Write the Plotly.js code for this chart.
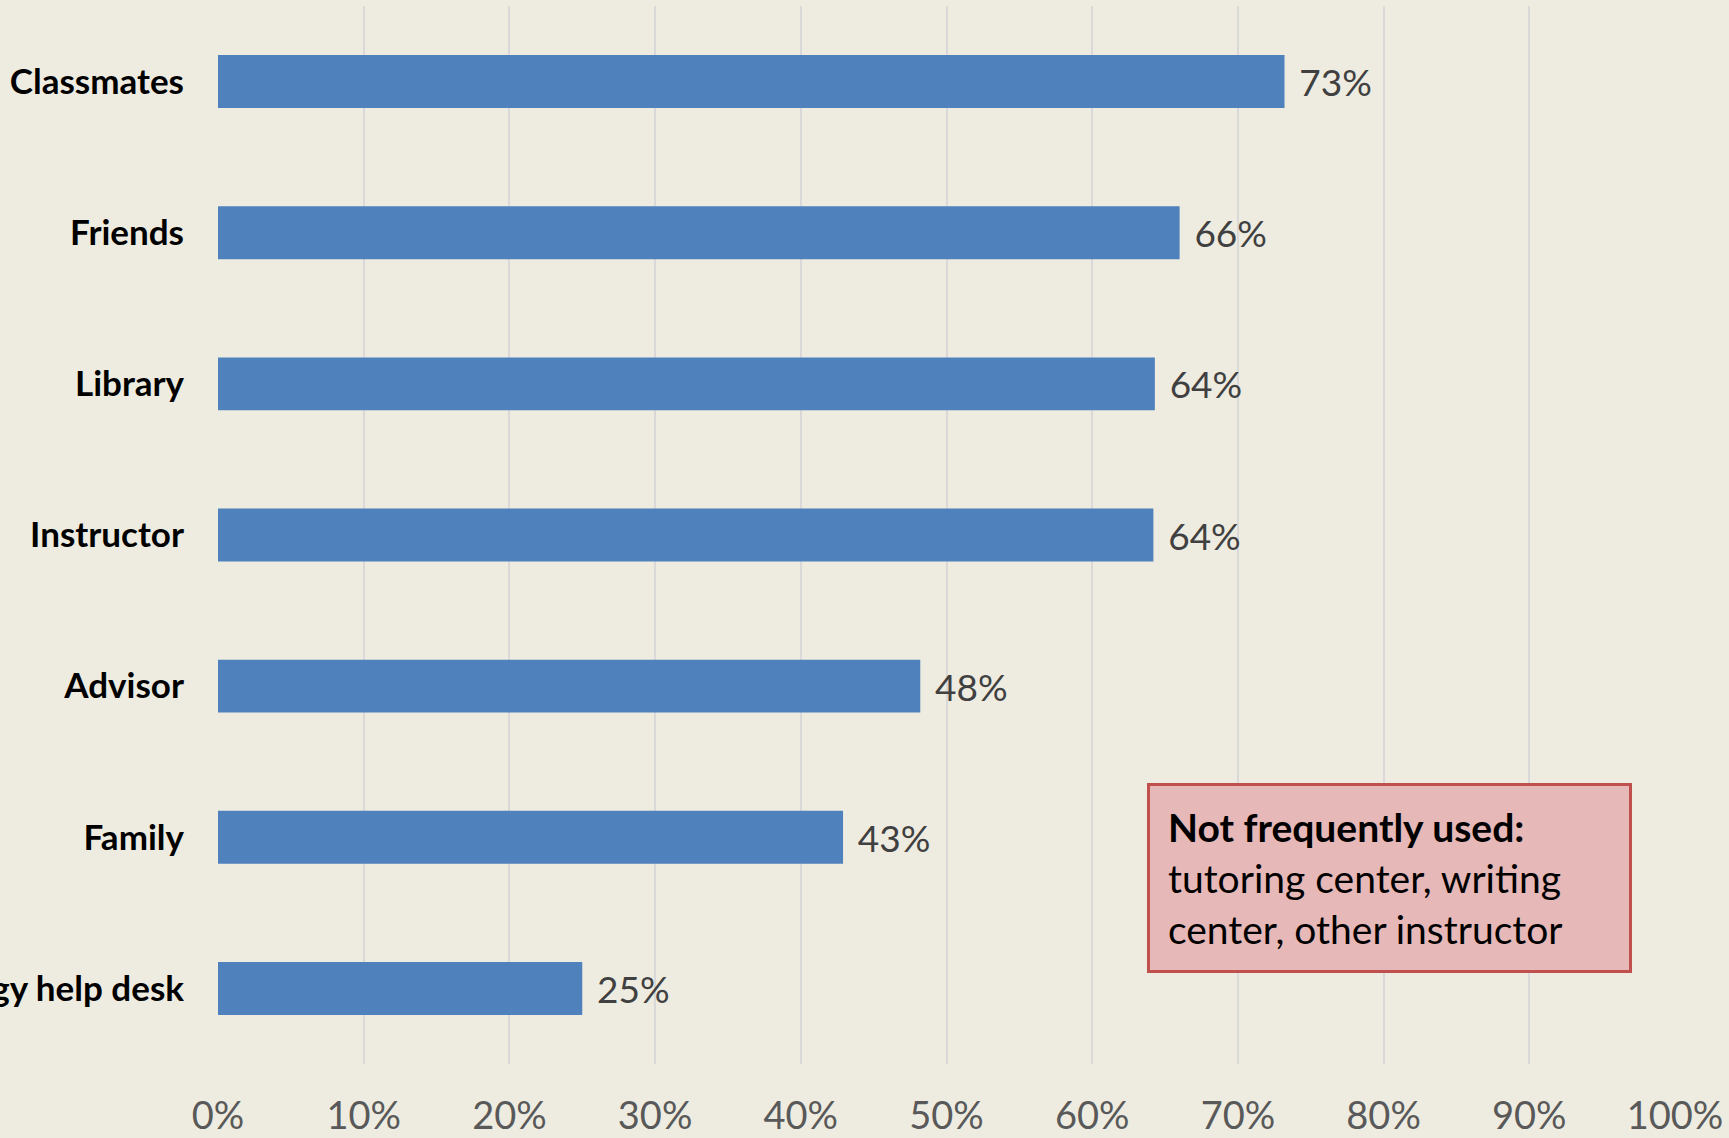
<!DOCTYPE html>
<html>
<head>
<meta charset="utf-8">
<script src="https://cdn.plot.ly/plotly-3.0.1.min.js"></script>
<style>
  html, body { margin: 0; padding: 0; background: #EEECE1; }
  #chart { width: 1729px; height: 1138px; }
</style>
</head>
<body>
<div id="chart"></div>
<script>
// Data (top to bottom as shown)
const categories = ["Classmates", "Friends", "Library", "Instructor", "Advisor", "Family", "Technology help desk"];
const shares = [73.2, 66.0, 64.3, 64.2, 48.2, 42.9, 25.0];
const xTickValues = [0, 10, 20, 30, 40, 50, 60, 70, 80, 90, 100];
const xTickLabels = ["0%", "10%", "20%", "30%", "40%", "50%", "60%", "70%", "80%", "90%", "100%"];
const noteTitle = "Not frequently used:";
const noteLines = ["tutoring center, writing", "center, other instructor"];

const trace = {
  type: "bar",
  orientation: "h",
  y: categories,
  x: shares,
  marker: { color: "#4F81BD", line: { width: 0 } },
  texttemplate: "\u00A0\u200A%{x:.0f}%",
  textposition: "outside",
  constraintext: "none",
  cliponaxis: false,
  textfont: { family: "Lato, 'Open Sans', sans-serif", size: 37, color: "#404040" },
  hoverinfo: "skip"
};

const layout = {
  width: 1729,
  height: 1138,
  paper_bgcolor: "#EEECE1",
  plot_bgcolor: "#EEECE1",
  margin: { l: 218, r: 54, t: 6, b: 74, autoexpand: false },
  bargap: 0.65,
  showlegend: false,
  xaxis: {
    range: [0, 100],
    tickvals: xTickValues,
    ticktext: xTickLabels,
    showgrid: true,
    gridcolor: "#D9D9D9",
    gridwidth: 2,
    zeroline: false,
    showline: false,
    ticks: "",
    ticklabelstandoff: 26,
    tickfont: { family: "Lato, 'Open Sans', sans-serif", size: 38, color: "#595959" },
    automargin: false,
    fixedrange: true
  },
  yaxis: {
    autorange: "reversed",
    showgrid: false,
    zeroline: false,
    showline: false,
    ticks: "",
    ticklabelstandoff: 33,
    tickfont: { family: "Lato, 'Open Sans', sans-serif", size: 35, color: "#000000", weight: "bold" },
    automargin: false,
    fixedrange: true
  },
  annotations: [{
    xref: "paper", yref: "paper",
    x: 0.6376, y: 0.2656,
    xanchor: "left", yanchor: "top",
    showarrow: false,
    align: "left",
    valign: "middle",
    width: 443,
    height: 148,
    bgcolor: "#E6B8B7",
    bordercolor: "#C0504D",
    borderwidth: 3,
    borderpad: 18,
    text: "<b>" + noteTitle + "</b><br>" + noteLines.join("<br>"),
    font: { family: "Lato, 'Open Sans', sans-serif", size: 39, color: "#000000" }
  }]
};

Plotly.newPlot("chart", [trace], layout, { displayModeBar: false, staticPlot: true });
</script>
</body>
</html>
